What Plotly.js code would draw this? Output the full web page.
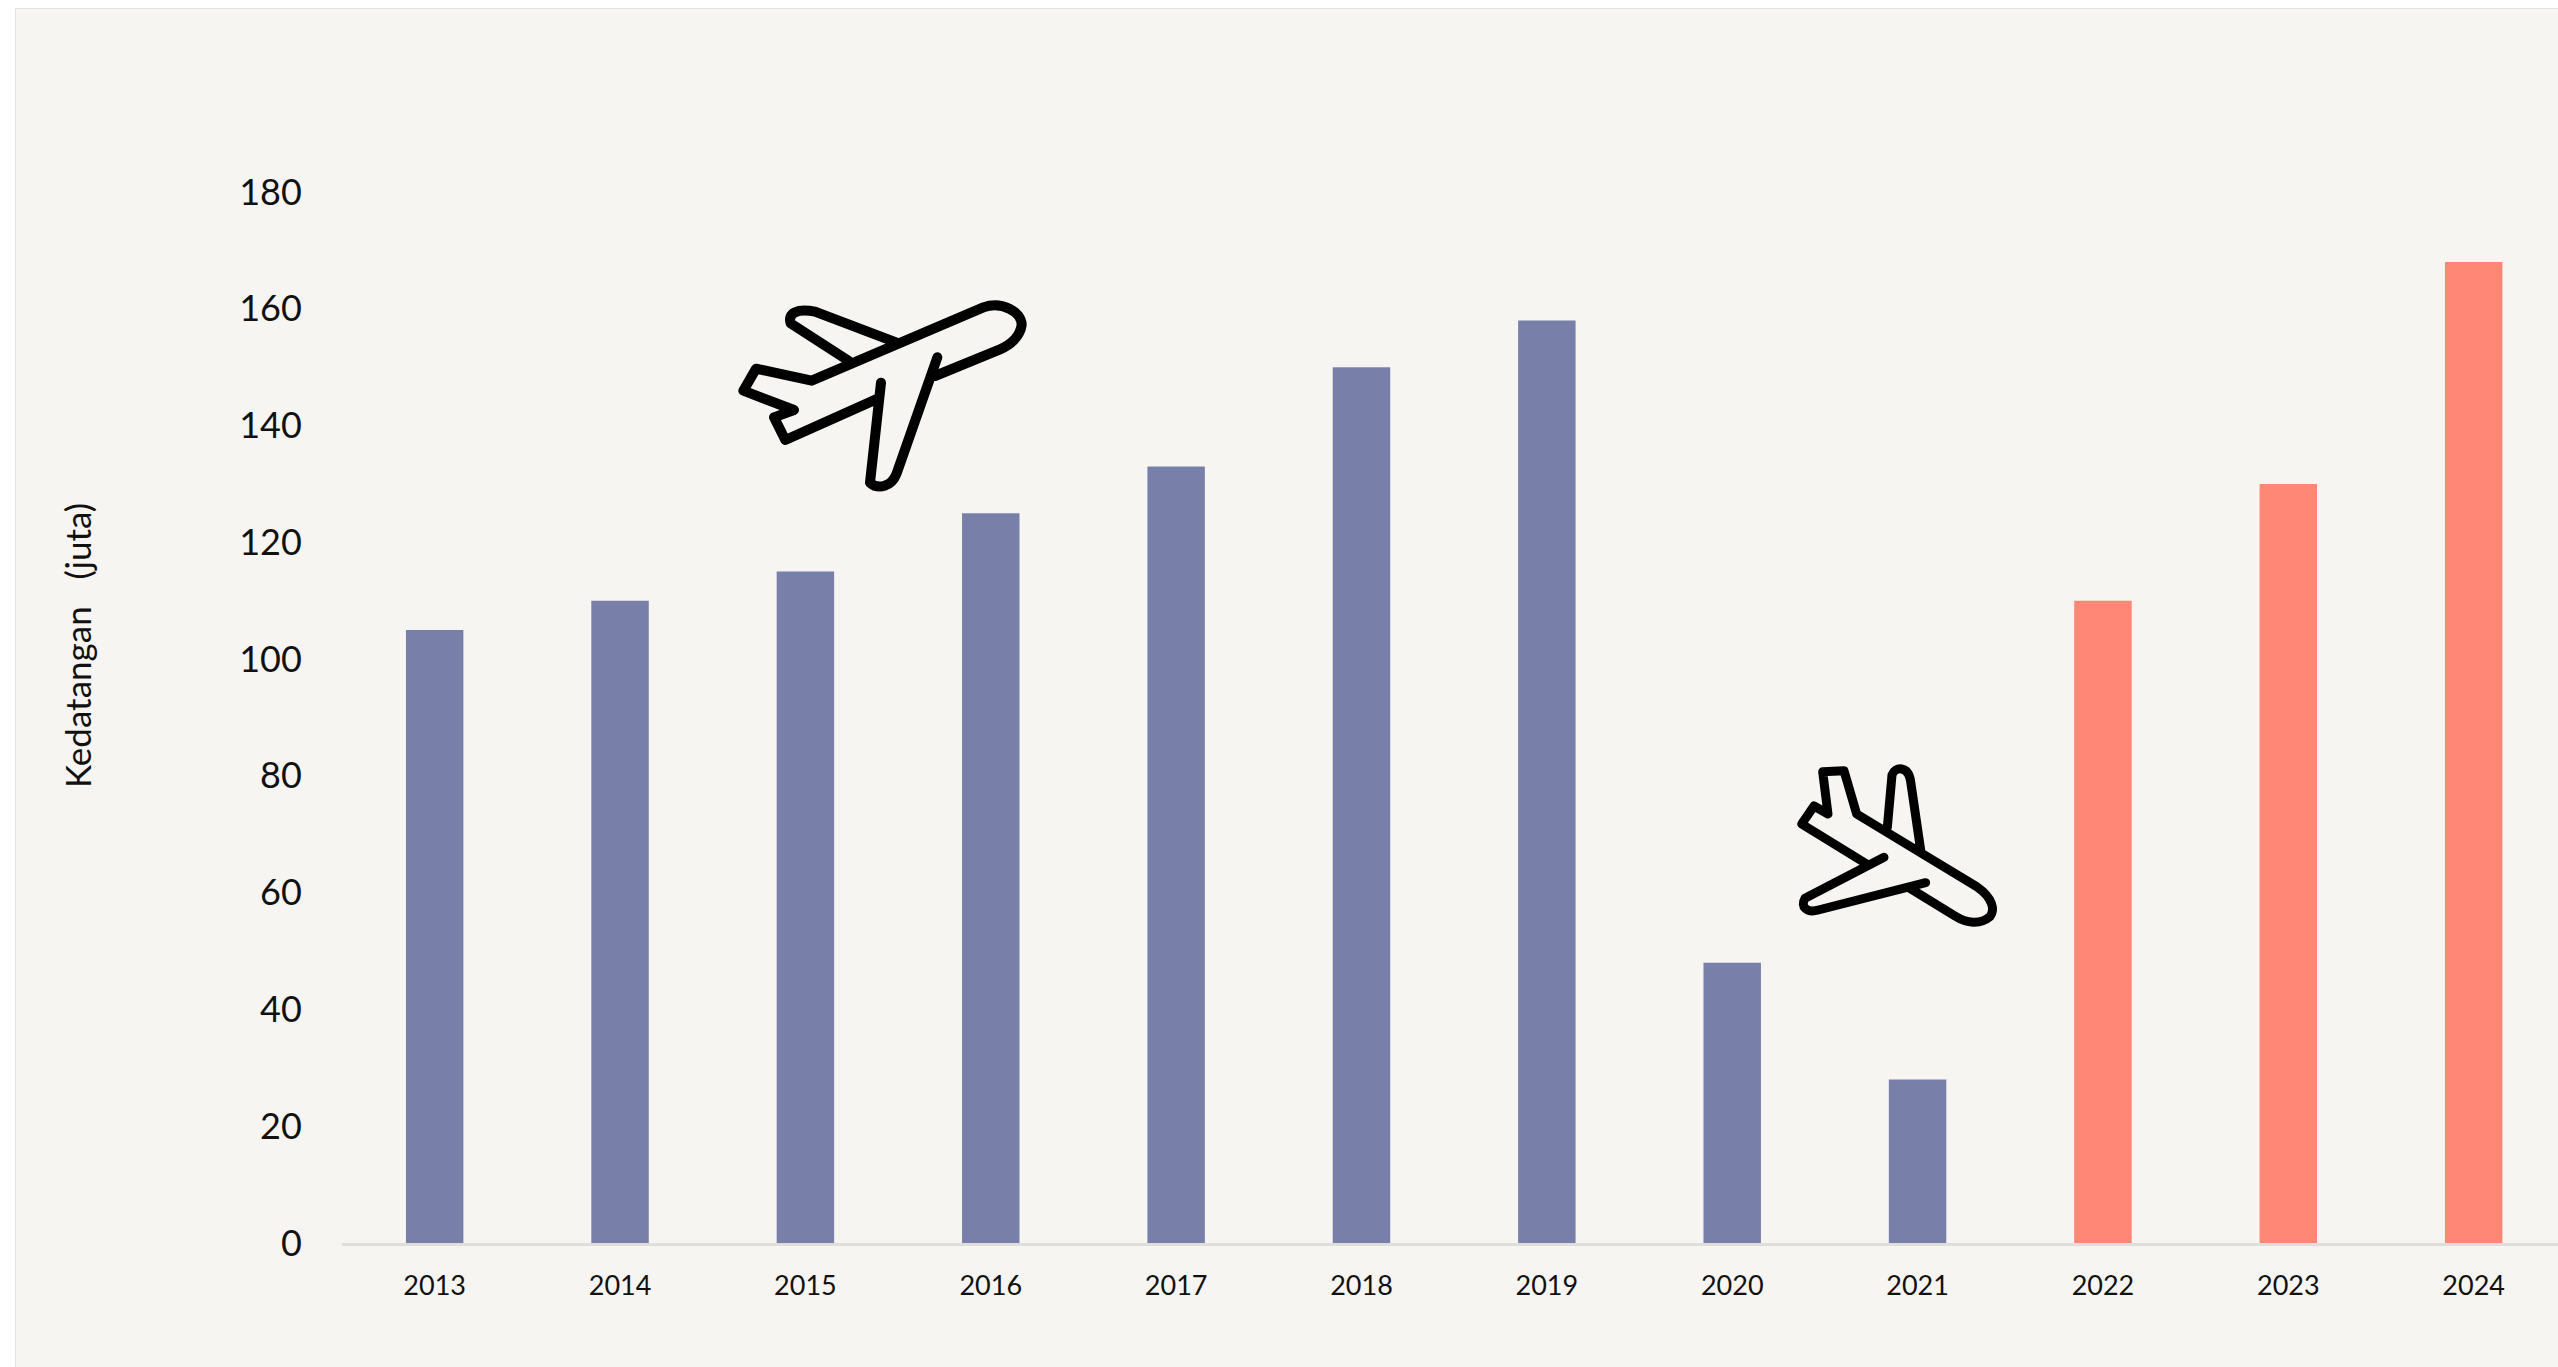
<!DOCTYPE html>
<html>
<head>
<meta charset="utf-8">
<script src="https://cdn.plot.ly/plotly-3.0.1.min.js"></script>
<style>
  html, body { margin: 0; padding: 0; width: 2558px; height: 1367px; background: #ffffff; overflow: hidden; }
  #panel { position: absolute; left: 15px; top: 8px; right: -2px; bottom: -2px; background: #f6f5f1; border: 1px solid #e2e2e0; }
  #chart { position: absolute; left: 0; top: 0; width: 2558px; height: 1367px; }
</style>
</head>
<body>
<div id="panel"></div>
<div id="chart"></div>
<script>
// Arrivals per year, in millions
const years = ['2013','2014','2015','2016','2017','2018','2019','2020','2021','2022','2023','2024'];
const arrivals = [105, 110, 115, 125, 133, 150, 158, 48, 28, 110, 130, 168];
const barColors = ['#7880aa','#7880aa','#7880aa','#7880aa','#7880aa','#7880aa','#7880aa','#7880aa','#7880aa','#ff8775','#ff8775','#ff8775'];
const yTicks = [0, 20, 40, 60, 80, 100, 120, 140, 160, 180];
const yTitle = 'Kedatangan \u00a0 (juta)';

// Outline icons: one plane climbing, one descending
function iconUri(w, h, strokeW, d) {
  const svg = `<svg xmlns="http://www.w3.org/2000/svg" width="${w}" height="${h}" viewBox="0 0 ${w} ${h}">` +
    `<path d="${d}" fill="none" stroke="#000" stroke-width="${strokeW}" stroke-linecap="round" stroke-linejoin="round"/></svg>`;
  return 'data:image/svg+xml;base64,' + btoa(svg);
}
const planeUp =
  'M535 385 L256 510 L222 442 L282 420 L130 362 L168 296 L335 332 L850 112 ' +
  'C905 92 965 125 965 165 C960 200 930 225 900 238 L705 318 ' +
  'M712 262 L590 610 C575 650 535 660 510 638 L543 338 ' +
  'M445 272 L272 160 C262 130 290 115 345 125 L590 218';
const planeDown =
  'M325 375 L125 252 L162 198 L204 222 L188 95 L252 92 L290 222 L650 440 ' +
  'C700 475 705 510 690 530 C660 555 620 550 585 528 L450 445 ' +
  'M382 262 L396 105 C405 80 445 75 452 125 L482 330 ' +
  'M372 352 L135 475 C120 500 140 520 175 510 L497 428';

const plotLeft = 342, plotTop = 192, plotRight = 2558, plotBottom = 1243;
const plotW = plotRight - plotLeft, plotH = plotBottom - plotTop;
// Places an icon by page pixels, expressed in the plot's paper fractions
function pageImage(uri, left, top, w, h) {
  return {
    source: uri, xref: 'paper', yref: 'paper',
    x: (left - plotLeft) / plotW, y: (plotBottom - top) / plotH,
    sizex: w / plotW, sizey: h / plotH,
    xanchor: 'left', yanchor: 'top', sizing: 'stretch', layer: 'above'
  };
}

const font = 'Lato, "Open Sans", sans-serif';
const trace = {
  type: 'bar', x: years, y: arrivals,
  marker: { color: barColors, line: { width: 0 } },
  hoverinfo: 'x+y'
};
const layout = {
  width: 2558, height: 1367,
  margin: { l: plotLeft, r: 0, t: plotTop, b: 1367 - plotBottom, pad: 0 },
  paper_bgcolor: 'rgba(0,0,0,0)', plot_bgcolor: 'rgba(0,0,0,0)',
  bargap: 0.69,
  showlegend: false,
  font: { family: font, color: '#111111' },
  xaxis: {
    type: 'category', range: [-0.5, 11.455], fixedrange: true,
    showgrid: false, zeroline: false, showline: true, linecolor: '#dededa', linewidth: 3,
    ticks: 'outside', ticklen: 17, tickcolor: 'rgba(0,0,0,0)', tickfont: { family: font, size: 27, color: '#111111' }
  },
  yaxis: {
    range: [0, 180], fixedrange: true, tickmode: 'array', tickvals: yTicks, ticktext: yTicks.map(String),
    showgrid: false, zeroline: false, showline: false,
    ticks: 'outside', ticklen: 32, tickcolor: 'rgba(0,0,0,0)', tickfont: { family: font, size: 36, color: '#111111' }
  },
  annotations: [{
    text: yTitle, textangle: -90, showarrow: false,
    xref: 'paper', yref: 'paper',
    x: (77 - plotLeft) / plotW, y: (plotBottom - 646) / plotH,
    xanchor: 'center', yanchor: 'middle',
    font: { family: font, size: 35, color: '#111111' }
  }],
  images: [
    pageImage(iconUri(1080, 720, 30, planeUp), 700, 270, 360, 240),
    pageImage(iconUri(780, 600, 27, planeDown), 1760, 740, 260, 200)
  ]
};
Plotly.newPlot('chart', [trace], layout, { displayModeBar: false });
</script>
</body>
</html>
